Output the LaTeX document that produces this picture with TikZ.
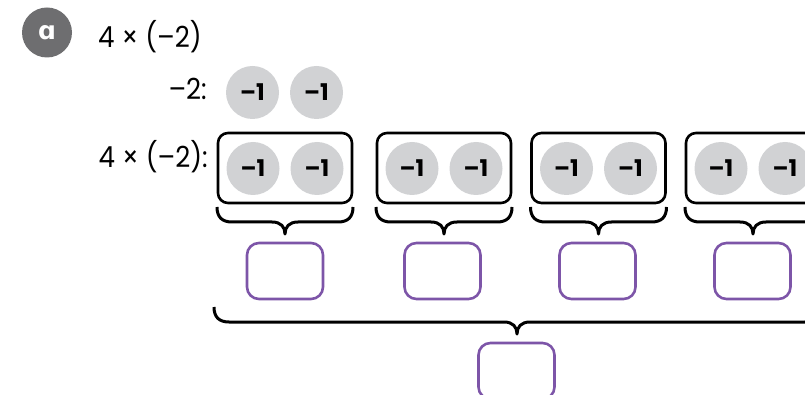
\documentclass[tikz,border=0pt]{standalone}
\usepackage{fontspec}
\setmainfont{Poppins}
\newfontfamily\titlefont[FakeStretch=0.9]{Poppins}
\newfontfamily\alphafont{DejaVu Sans}
\definecolor{chipgray}{HTML}{D1D2D4}
\definecolor{labelgray}{HTML}{6E6E70}
\definecolor{ansviolet}{HTML}{7D55A8}
\newcommand\mybrace[4]{% left, right, top, tip-x
  \draw[bracepath] (#1,#3) .. controls (#1,#3+10) and (#1+5,#3+15) .. (#1+15,#3+15)
    -- (#4-13,#3+15) .. controls (#4-4,#3+15) and (#4,#3+20) .. (#4,#3+27)
    .. controls (#4,#3+20) and (#4+4,#3+15) .. (#4+13,#3+15)
    -- (#2-15,#3+15) .. controls (#2-5,#3+15) and (#2,#3+10) .. (#2,#3);}
\begin{document}
\begin{tikzpicture}[x=1pt,y=-1pt,
  chip/.style={circle, fill=chipgray, minimum size=53pt, inner sep=0pt,
    font=\bfseries\fontsize{23}{23}\selectfont},
  grp/.style={draw, line width=2.6pt, rounded corners=10pt,
    minimum width=134pt, minimum height=70pt, inner sep=0pt},
  ans/.style={draw=ansviolet, line width=2.6pt, rounded corners=12pt,
    minimum width=76pt, minimum height=56pt, inner sep=0pt},
  lbl/.style={font=\titlefont\fontsize{29}{29}\selectfont, inner sep=0pt},
  bracepath/.style={line width=3pt, line join=round}]
\useasboundingbox (0,0) rectangle (805,395);
\clip (0,0) rectangle (805,395);
% label
\node[circle, fill=labelgray, minimum size=50pt, inner sep=0pt, text=white,
  font=\alphafont\bfseries\fontsize{25}{25}\selectfont] (tag) at (47,32.5) {ɑ};
\node[lbl, anchor=base west] (title) at (98,48) {4 × (–2)};
\node[lbl, anchor=base east] (l1) at (207,100) {–2:};
\node[lbl, anchor=base east] (l2) at (208,168) {4 × (–2):};
% top row
\node[chip] (t1) at (252.5,92.5) {–1};
\node[chip] (t2) at (316.5,92.5) {–1};
% groups
\foreach \i/\cx in {1/285, 2/444, 3/598.5, 4/753}{
  \node[grp] (g\i) at (\cx,168) {};
  \node[chip] (g\i a) at (\cx-32,168.5) {–1};
  \node[chip] (g\i b) at (\cx+32,168.5) {–1};
  \mybrace{\cx-68}{\cx+68}{207}{\cx}
}
\foreach \i/\cx in {1/285, 2/442.5, 3/597.5, 4/752.5}{
  \node[ans] (a\i) at (\cx,271) {};
}
\mybrace{214}{820}{307}{517}
\node[ans] (total) at (516.5,371) {};
\end{tikzpicture}
\end{document}
